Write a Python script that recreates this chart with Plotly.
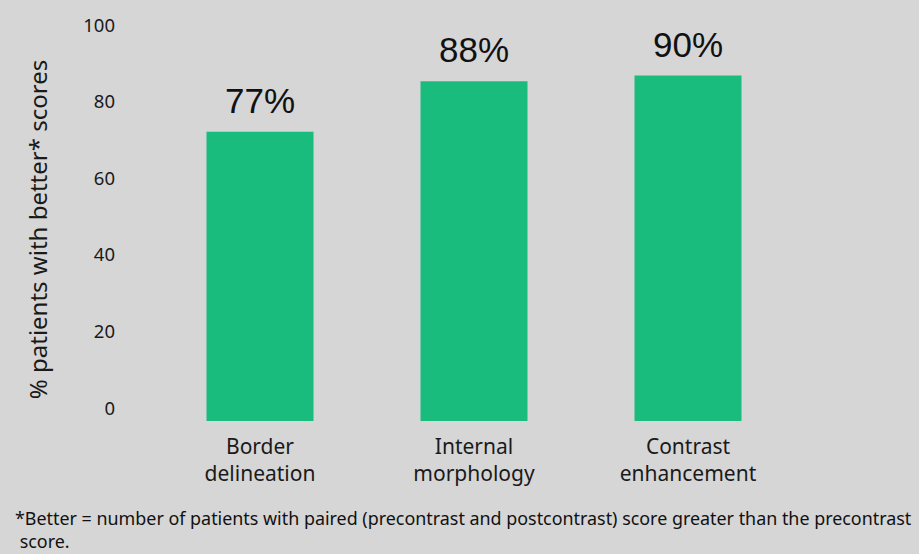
import plotly.graph_objects as go

# Данные
categories = ['Border<br>delineation', 'Internal<br>morphology', 'Contrast<br>enhancement']
bar_values = [75.5, 88.7, 90.2]
bar_labels = ['77%', '88%', '90%']
tick_values = [0, 20, 40, 60, 80, 100]

footnote = ('*Better = number of patients with paired (precontrast and postcontrast) '
            'score greater than the precontrast<br> score.')

fig = go.Figure()

fig.add_trace(go.Bar(
    x=categories,
    y=bar_values,
    marker=dict(color='#1abc7e', line=dict(width=0)),
    width=0.5,
    showlegend=False
))

# Подписи над столбцами
for cat, val, lab in zip(categories, bar_values, bar_labels):
    fig.add_annotation(
        x=cat, y=val, text=lab, showarrow=False,
        yanchor='bottom', yshift=10,
        font=dict(family='Liberation Sans, Arial', size=35, color='#111111')
    )

# Сноска
fig.add_annotation(
    x=-0.218, y=-0.218, xref='paper', yref='paper', xanchor='left', yanchor='top',
    text=footnote, showarrow=False, align='left',
    font=dict(family='Noto Sans', size=17.9, color='#111111')
)

fig.update_layout(
    width=919,
    height=554,
    paper_bgcolor='#d6d6d6',
    plot_bgcolor='#d6d6d6',
    margin=dict(l=153, r=124, t=33, b=133),
    font=dict(family='Noto Sans', color='#1a1a1a'),
    xaxis=dict(
        range=[-0.5, 2.5],
        showgrid=False, zeroline=False, showline=False,
        tickfont=dict(size=21),
        ticks='', ticklabelstandoff=11
    ),
    yaxis=dict(
        range=[0, 100],
        tickvals=tick_values,
        showgrid=False, zeroline=False, showline=False,
        ticks='', tickfont=dict(size=18.5),
        ticklabelposition='outside top',
        ticklabelstandoff=37,
        title=dict(text='% patients with better* scores', font=dict(size=24), standoff=28)
    ),
)

fig.write_html("out.html", config={'displayModeBar': False},
               post_script="document.body.style.margin='0';")
